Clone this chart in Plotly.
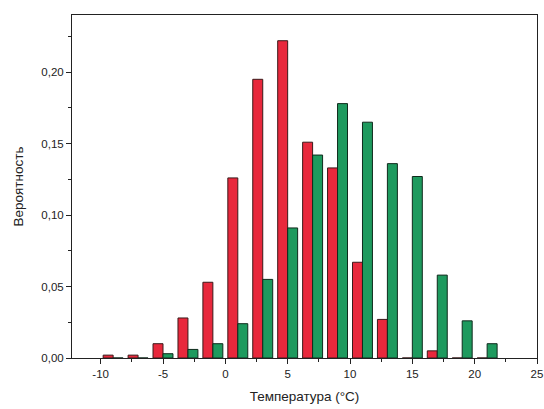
import plotly.graph_objects as go

bins = [-9, -7, -5, -3, -1, 1, 3, 5, 7, 9, 11, 13, 15, 17, 19, 21]
red_vals = [0.002, 0.002, 0.010, 0.028, 0.053, 0.126, 0.195, 0.222, 0.151, 0.133, 0.067, 0.027, 0.0, 0.005, 0.0, 0.0]
green_vals = [0.0, 0.0, 0.003, 0.006, 0.010, 0.024, 0.055, 0.091, 0.142, 0.178, 0.165, 0.136, 0.127, 0.058, 0.026, 0.010]
x_ticks = [-10, -5, 0, 5, 10, 15, 20, 25]
y_ticks = [0.00, 0.05, 0.10, 0.15, 0.20]

fig = go.Figure()
fig.add_trace(go.Bar(x=bins, y=red_vals, marker=dict(color="#E8283C", line=dict(color="#3a1a1a", width=1)), showlegend=False))
fig.add_trace(go.Bar(x=bins, y=green_vals, marker=dict(color="#1E9A5E", line=dict(color="#0f2a1c", width=1)), showlegend=False))

font = "Liberation Sans, Arial, sans-serif"
fig.update_layout(
    width=544, height=409,
    margin=dict(l=72, r=7, t=15, b=51, autoexpand=False),
    paper_bgcolor="white", plot_bgcolor="white",
    barmode="group", bargap=0.2, bargroupgap=0,
    separators=", ",
    font=dict(family=font, size=11.5, color="#222"),
    xaxis=dict(
        range=[-12.3, 25], tickvals=x_ticks, ticktext=[str(v) for v in x_ticks],
        ticks="outside", ticklen=5, tickcolor="#222", automargin=False,
        showline=True, linecolor="#222", linewidth=1, mirror=True,
        showgrid=False, zeroline=False,
        minor=dict(ticks="outside", ticklen=3, dtick=2.5, tick0=0, tickcolor="#222", showgrid=False),
        title=dict(text="Температура (°C)", font=dict(size=13.5, family=font), standoff=12),
    ),
    yaxis=dict(
        range=[0, 0.24], tickvals=y_ticks, tickformat=".2f",
        ticks="outside", ticklen=5, tickcolor="#222", automargin=False,
        showline=True, linecolor="#222", linewidth=1, mirror=True,
        showgrid=False, zeroline=False,
        minor=dict(ticks="outside", ticklen=3, dtick=0.025, tick0=0, tickcolor="#222", showgrid=False),
        title=dict(text="Вероятность", font=dict(size=13.5, family=font), standoff=14),
    ),
)

fig.write_html("out.html")
